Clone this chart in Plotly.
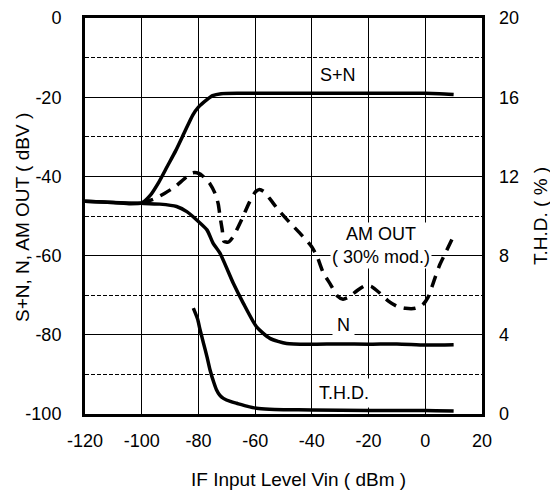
import plotly.graph_objects as go

# ---- data ----
sn_x = [-120, -110, -104, -100, -97, -94, -91, -88, -85, -82, -80, -77, -75, -72, -65, -40, -20, 0, 5, 10]
sn_y = [-46.3, -46.6, -46.9, -46.7, -44.8, -41.5, -37.5, -33.5, -29.0, -24.5, -22.5, -20.6, -19.6, -19.1, -19.0, -19.0, -19.0, -19.0, -19.1, -19.3]

n_x = [-120, -110, -100, -93.6, -87.7, -84.1, -80.6, -77, -74.8, -72.4, -67.7, -64.2, -59.5, -54.8, -48.9, -40.7, -30, -20, -10, 0, 10]
n_y = [-46.3, -46.6, -46.8, -47.0, -47.6, -48.9, -51.0, -53.5, -56.9, -59.4, -67.0, -72.0, -78.0, -80.9, -82.2, -82.4, -82.3, -82.4, -82.3, -82.6, -82.5]

am_x = [-100, -96, -92, -88, -85, -82, -80, -78, -76, -74, -73, -72.4, -71.6, -71, -69.5, -68, -66.5, -64.5, -62, -60, -58.5, -57, -55, -52, -48, -44, -40, -38, -36, -33.5, -31, -29, -27, -24, -21, -19, -16, -13, -10, -7, -3.5, -1, 1, 3, 5, 7, 10]
am_y = [-46.7, -45.8, -44.3, -42.5, -40.6, -39.1, -39.2, -40.2, -41.8, -44.5, -47.0, -50.0, -53.5, -56.4, -56.6, -55.5, -53.5, -50.5, -46.5, -44.0, -43.3, -43.8, -45.5, -48.3, -51.5, -54.5, -57.8, -60.5, -64.3, -67.2, -70.2, -71.0, -70.5, -68.8, -67.5, -67.8, -69.5, -71.5, -72.8, -73.3, -73.3, -72.5, -70.5, -66.5, -62.5, -59.5, -55.0]

thd_x = [-81.8, -80.3, -79.5, -78.2, -77, -75.9, -74.6, -73.6, -72.5, -71.2, -68.5, -66.5, -63, -59.5, -55, -50, -40, -20, 0, 10]
thd_y = [5.35, 4.8, 4.3, 3.57, 2.9, 2.22, 1.6, 1.21, 0.95, 0.79, 0.62, 0.54, 0.4, 0.29, 0.24, 0.22, 0.2, 0.18, 0.18, 0.15]

x_ticks = [-120, -100, -80, -60, -40, -20, 0, 20]
y_ticks = [-100, -80, -60, -40, -20, 0]
y2_ticks = [0, 4, 8, 12, 16, 20]

FONT = "Liberation Sans, Arial, sans-serif"
BLACK = "#000000"
W, H = 550, 493
ML, MT = 85, 18
MR = W - 482
MB = H - 414
PW, PH = W - ML - MR, H - MT - MB
TICK_SIZE = 18
ANN_SIZE = 18
TITLE_SIZE = 19

fig = go.Figure()
line_style = dict(color=BLACK, width=3.5, shape="spline", smoothing=0.6)
fig.add_trace(go.Scatter(x=sn_x, y=sn_y, mode="lines", line=line_style, showlegend=False, hoverinfo="skip"))
fig.add_trace(go.Scatter(x=n_x, y=n_y, mode="lines", line=line_style, showlegend=False, hoverinfo="skip"))
fig.add_trace(go.Scatter(x=am_x, y=am_y, mode="lines", line=dict(line_style, dash="12px,8px"), showlegend=False, hoverinfo="skip"))
fig.add_trace(go.Scatter(x=thd_x, y=thd_y, mode="lines", yaxis="y2", line=line_style, showlegend=False, hoverinfo="skip"))

fig.update_layout(
    width=W, height=H,
    margin=dict(l=ML, r=MR, t=MT, b=MB, autoexpand=False),
    paper_bgcolor="white", plot_bgcolor="white",
    font=dict(family=FONT, size=TICK_SIZE, color=BLACK),
    xaxis=dict(range=[-120, 20], tickvals=x_ticks, ticktext=[str(v) for v in x_ticks],
               showgrid=True, gridcolor=BLACK, gridwidth=1, zeroline=False, automargin=False,
               showline=True, linecolor=BLACK, linewidth=3, mirror=True,
               ticks="", ticklabelstandoff=8, tickfont=dict(size=TICK_SIZE)),
    yaxis=dict(range=[-100, 0], tickvals=y_ticks, ticktext=[str(v) for v in y_ticks],
               showgrid=True, gridcolor=BLACK, gridwidth=1, zeroline=False, automargin=False,
               showline=True, linecolor=BLACK, linewidth=3, mirror=True,
               ticks="", ticklabelstandoff=17, tickfont=dict(size=TICK_SIZE),
               minor=dict(dtick=10, showgrid=True, gridcolor=BLACK, gridwidth=1, griddash="4px,2px")),
    yaxis2=dict(range=[0, 20], tickvals=y2_ticks, ticktext=[str(v) for v in y2_ticks],
                overlaying="y", side="right", showgrid=False, zeroline=False, showline=False,
                automargin=False, ticks="", ticklabelstandoff=16, tickfont=dict(size=TICK_SIZE)),
)

ann_font = dict(family=FONT, size=ANN_SIZE, color=BLACK)
fig.add_annotation(x=-30.7, y=-14.4, xref="x", yref="y", text="S+N", showarrow=False, font=ann_font, bgcolor="white", borderpad=3)
fig.add_annotation(x=-28.9, y=-77.6, xref="x", yref="y", text="N", showarrow=False, font=ann_font, bgcolor="white", borderpad=4)
fig.add_annotation(x=-28.8, y=-94.6, xref="x", yref="y", text="T.H.D.", showarrow=False, font=ann_font, bgcolor="white", borderpad=4)
fig.add_annotation(x=-15.6, y=-57.4, xref="x", yref="y", text="AM OUT<br>( 30% mod.)", showarrow=False, font=ann_font, bgcolor="white", borderpad=1)


def paper(px_, py_):
    # page pixel -> paper coordinates
    return (px_ - ML) / PW, (H - MB - py_) / PH


title_font = dict(family=FONT, size=TITLE_SIZE, color=BLACK)
px, py = paper(298, 479)
fig.add_annotation(x=px, y=py, xref="paper", yref="paper", xanchor="center", yanchor="middle",
                   text="IF Input Level Vin ( dBm )", showarrow=False, font=title_font)
px, py = paper(23, 218)
fig.add_annotation(x=px, y=py, xref="paper", yref="paper", xanchor="center", yanchor="middle",
                   text="S+N, N, AM OUT ( dBV )", textangle=-90, showarrow=False, font=title_font)
px, py = paper(540, 216)
fig.add_annotation(x=px, y=py, xref="paper", yref="paper", xanchor="center", yanchor="middle",
                   text="T.H.D. ( % )", textangle=-90, showarrow=False, font=title_font)

fig.write_html("out.html", config={"displayModeBar": False},
               post_script="document.body.style.margin='0px';")
